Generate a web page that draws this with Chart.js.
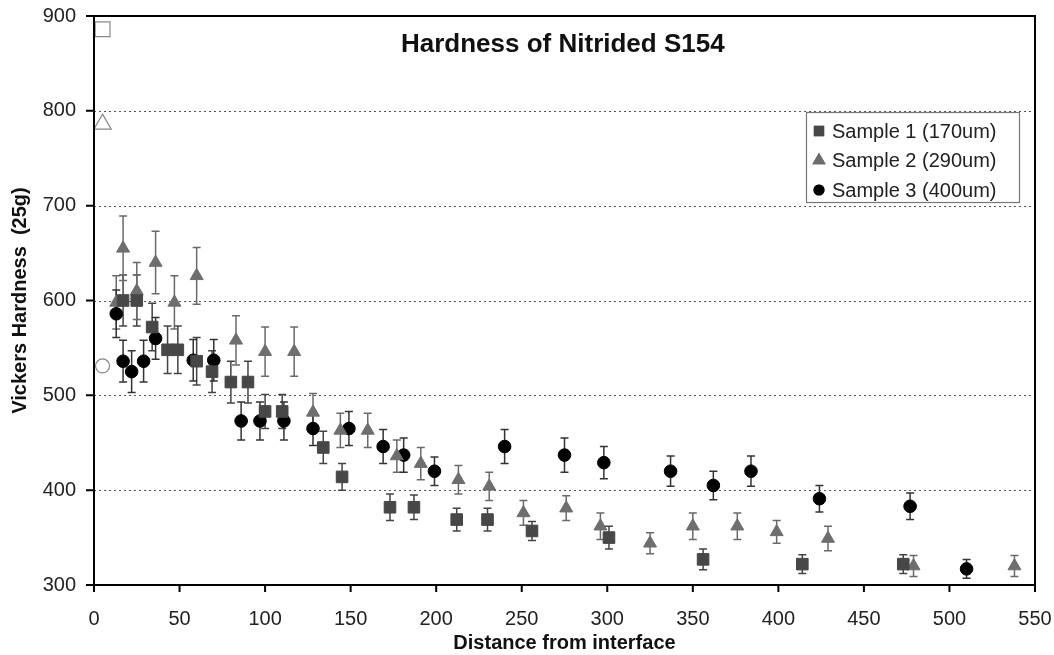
<!DOCTYPE html>
<html>
<head>
<meta charset="utf-8">
<script src="https://cdn.jsdelivr.net/npm/chart.js@4"></script>
<style>
  body { margin: 0; background: #fff; }
  #wrap { width: 1054px; height: 655px; position: relative; }
</style>
</head>
<body>
<div id="wrap"><canvas id="hardness"></canvas></div>
<script>
// Sample 1 (170um) - squares
var s1X   = [17, 25, 34, 43, 49, 60, 69, 80, 90, 100, 110, 134, 145, 173, 187, 212, 230, 256, 301, 356, 414, 473];
var s1Y   = [600, 600, 572, 548, 548, 536, 525, 514, 514, 483, 483, 445, 414, 382, 382, 369, 369, 357, 350, 327, 322, 322];
var s1Err = [27, 27, 25, 25, 25, 25, 22, 22, 22, 18, 18, 17, 14, 14, 13, 12, 12, 10, 12, 11, 10, 10];

// Sample 2 (290um) - triangles
var s2X   = [13, 17, 25, 36, 47, 60, 83, 100, 117, 128, 144, 160, 177, 191, 213, 231, 251, 276, 296, 325, 350, 376, 399, 429, 479, 538];
var s2Y   = [598, 655, 610, 640, 598, 626, 558, 546, 546, 482, 463, 463, 436, 428, 411, 404, 376, 381, 362, 344, 362, 362, 356, 349, 320, 320];
var s2Err = [28, 34, 30, 33, 28, 30, 26, 26, 26, 20, 18, 18, 17, 17, 15, 15, 13, 13, 14, 11, 14, 14, 12, 13, 11, 11];

// Sample 3 (400um) - circles
var s3X   = [13, 17, 22, 29, 36, 58, 70, 86, 97, 111, 128, 149, 169, 181, 199, 240, 275, 298, 337, 362, 384, 424, 477, 510];
var s3Y   = [586, 536, 525, 536, 560, 537, 537, 473, 473, 473, 465, 465, 446, 437, 420, 446, 437, 429, 420, 405, 420, 391, 383, 317];
var s3Err = [25, 22, 22, 22, 22, 22, 22, 20, 20, 20, 18, 18, 18, 18, 15, 18, 18, 17, 16, 15, 16, 14, 14, 10];

// open markers near the surface (square, triangle, circle)
var surfaceX = [5, 5, 5];
var surfaceY = [886, 786, 531];

var seriesLabels = ['Sample 1 (170um)', 'Sample 2 (290um)', 'Sample 3 (400um)'];
var xTicks = [0, 550, 50];   // min, max, step
var yTicks = [300, 900, 100];

var FONT = "'Liberation Sans', Arial, sans-serif";

function pts(xs, ys) {
  var out = [];
  for (var i = 0; i < xs.length; i++) out.push({x: xs[i], y: ys[i]});
  return out;
}

var errorBars = {
  id: 'errorBars',
  beforeDatasetsDraw: function(chart) {
    var ctx = chart.ctx, xs = chart.scales.x, ys = chart.scales.y;
    chart.data.datasets.forEach(function(ds) {
      if (!ds.errors) return;
      ctx.save();
      ctx.strokeStyle = ds.errColor;
      ctx.lineWidth = 1.5;
      ds.data.forEach(function(p, j) {
        var e = ds.errors[j];
        var x = xs.getPixelForValue(p.x);
        var y1 = ys.getPixelForValue(p.y + e);
        var y2 = ys.getPixelForValue(p.y - e);
        ctx.beginPath();
        ctx.moveTo(x, y1); ctx.lineTo(x, y2);
        ctx.moveTo(x - 4, y1); ctx.lineTo(x + 4, y1);
        ctx.moveTo(x - 4, y2); ctx.lineTo(x + 4, y2);
        ctx.stroke();
      });
      ctx.restore();
    });
  }
};

var extras = {
  id: 'extras',
  beforeDatasetsDraw: function(chart) {
    // dotted horizontal grid
    var ctx = chart.ctx, a = chart.chartArea, ys = chart.scales.y;
    ctx.save();
    ctx.strokeStyle = '#555';
    ctx.lineWidth = 1;
    ctx.setLineDash([2, 3]);
    ys.ticks.forEach(function(t) {
      if (t.value <= yTicks[0] || t.value >= yTicks[1]) return;
      var y = Math.round(ys.getPixelForValue(t.value)) + 0.5;
      ctx.beginPath();
      ctx.moveTo(a.left, y); ctx.lineTo(a.right, y);
      ctx.stroke();
    });
    ctx.restore();
  },
  afterDraw: function(chart) {
    var ctx = chart.ctx, a = chart.chartArea;
    var xs = chart.scales.x, ys = chart.scales.y;
    ctx.save();
    // short tick marks
    ctx.strokeStyle = '#000';
    ctx.lineWidth = 2;
    ctx.beginPath();
    xs.ticks.forEach(function(t) {
      var x = xs.getPixelForValue(t.value);
      ctx.moveTo(x, a.bottom); ctx.lineTo(x, a.bottom + 7);
    });
    ys.ticks.forEach(function(t) {
      var y = ys.getPixelForValue(t.value);
      ctx.moveTo(a.left - 8, y); ctx.lineTo(a.left, y);
    });
    ctx.stroke();

    // frame
    ctx.strokeRect(a.left, a.top, a.right - a.left, a.bottom - a.top);

    // title inside the plot
    ctx.fillStyle = '#111';
    ctx.font = 'bold 26px ' + FONT;
    ctx.textAlign = 'left';
    ctx.textBaseline = 'middle';
    ctx.fillText('Hardness of Nitrided S154', a.left + 307, a.top + 29);

    // legend box
    var bx = a.right - 229, by = a.top + 96, bw = 213, bh = 90;
    ctx.fillStyle = '#fff';
    ctx.fillRect(bx, by, bw, bh);
    ctx.strokeStyle = '#777';
    ctx.lineWidth = 1.2;
    ctx.strokeRect(bx + 0.5, by + 0.5, bw, bh);
    ctx.font = '20px ' + FONT;
    ctx.textBaseline = 'middle';
    for (var i = 0; i < 3; i++) {
      var ds = chart.data.datasets[i];
      var cy = by + 19 + i * 29.5;
      Chart.helpers.drawPoint(ctx, {
        pointStyle: ds.pointStyle,
        radius: ds.legendRadius,
        rotation: 0,
        borderWidth: 1
      }, bx + 13, cy);
      ctx.fillStyle = ds.backgroundColor;
      ctx.strokeStyle = ds.borderColor;
      ctx.fill();
      ctx.stroke();
      ctx.fillStyle = '#222';
      ctx.fillText(ds.label, bx + 26, cy + 1);
    }
    ctx.restore();
  }
};

new Chart(document.getElementById('hardness'), {
  type: 'scatter',
  data: {
    datasets: [
      {
        label: seriesLabels[0], data: pts(s1X, s1Y), errors: s1Err, errColor: '#444',
        pointStyle: 'rect', pointRadius: 8.2, legendRadius: 6.5,
        backgroundColor: '#474747', borderColor: '#474747', borderWidth: 1
      },
      {
        label: seriesLabels[1], data: pts(s2X, s2Y), errors: s2Err, errColor: '#6a6a6a',
        pointStyle: 'triangle', pointRadius: 7.5, legendRadius: 6.5,
        backgroundColor: '#6e6e6e', borderColor: '#6e6e6e', borderWidth: 1
      },
      {
        label: seriesLabels[2], data: pts(s3X, s3Y), errors: s3Err, errColor: '#333',
        pointStyle: 'circle', pointRadius: 6.3, legendRadius: 5,
        backgroundColor: '#000', borderColor: '#000', borderWidth: 1
      },
      {
        label: 'surface 1', data: [{x: surfaceX[0], y: surfaceY[0]}],
        pointStyle: 'rect', pointRadius: 10.5,
        backgroundColor: '#fff', borderColor: '#888', borderWidth: 1.2
      },
      {
        label: 'surface 2', data: [{x: surfaceX[1], y: surfaceY[1]}],
        pointStyle: 'triangle', pointRadius: 10,
        backgroundColor: '#fff', borderColor: '#888', borderWidth: 1.2
      },
      {
        label: 'surface 3', data: [{x: surfaceX[2], y: surfaceY[2]}],
        pointStyle: 'circle', pointRadius: 7,
        backgroundColor: '#fff', borderColor: '#888', borderWidth: 1.2
      }
    ]
  },
  options: {
    responsive: true,
    maintainAspectRatio: false,
    animation: false,
    layout: { padding: { top: 16, right: 19, left: 0, bottom: 0 } },
    plugins: {
      legend: { display: false },
      tooltip: { enabled: false }
    },
    scales: {
      x: {
        type: 'linear',
        min: xTicks[0], max: xTicks[1],
        ticks: { stepSize: xTicks[2], color: '#222', font: { family: FONT, size: 20 }, padding: 2, maxRotation: 0 },
        grid: { drawOnChartArea: false, drawTicks: true, tickLength: 20, tickColor: 'rgba(0,0,0,0)' },
        border: { display: true, color: '#000', width: 2 },
        title: { display: true, text: 'Distance from interface', color: '#111',
                 font: { family: FONT, size: 20, weight: 'bold' }, padding: { top: -3, bottom: 0 } },
        afterFit: function(s) { s.height = 70; }
      },
      y: {
        type: 'linear',
        min: yTicks[0], max: yTicks[1],
        ticks: { stepSize: yTicks[2], color: '#222', font: { family: FONT, size: 20 }, padding: 4 },
        grid: { drawOnChartArea: false, drawTicks: true, tickLength: 14, tickColor: 'rgba(0,0,0,0)' },
        border: { display: true, color: '#000', width: 2 },
        title: { display: true, text: 'Vickers Hardness  (25g)', color: '#111',
                 font: { family: FONT, size: 20, weight: 'bold' }, padding: { top: 8, bottom: 0 } },
        afterFit: function(s) { s.width = 94; }
      }
    }
  },
  plugins: [extras, errorBars]
});
</script>
</body>
</html>
